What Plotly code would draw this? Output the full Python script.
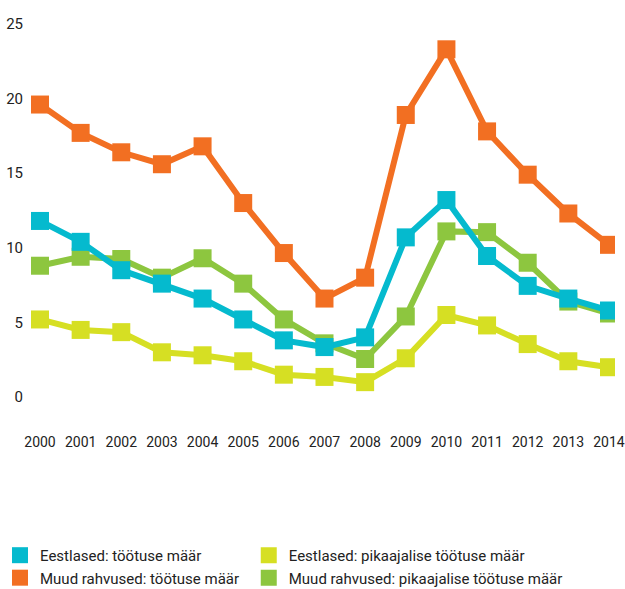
import plotly.graph_objects as go

years = list(range(2000, 2015))

eest_tootus = [11.8, 10.4, 8.5, 7.6, 6.6, 5.2, 3.8, 3.35, 4.0, 10.7, 13.2, 9.45, 7.45, 6.6, 5.8]
muud_tootus = [19.6, 17.7, 16.4, 15.6, 16.8, 13.0, 9.65, 6.6, 8.0, 18.9, 23.3, 17.8, 14.9, 12.3, 10.2]
eest_pika = [5.2, 4.5, 4.35, 3.0, 2.8, 2.4, 1.5, 1.35, 1.0, 2.6, 5.5, 4.8, 3.55, 2.4, 2.0]
muud_pika = [8.8, 9.4, 9.25, 8.0, 9.3, 7.6, 5.2, 3.6, 2.55, 5.4, 11.1, 11.05, 9.0, 6.4, 5.6]

names = {
    "eest_tootus": "Eestlased: töötuse määr",
    "eest_pika": "Eestlased: pikaajalise töötuse määr",
    "muud_tootus": "Muud rahvused: töötuse määr",
    "muud_pika": "Muud rahvused: pikaajalise töötuse määr",
}
colors = {
    "eest_tootus": "#05BACE",
    "muud_tootus": "#F26F22",
    "eest_pika": "#D6DF23",
    "muud_pika": "#8DC63F",
}
series = {
    "eest_tootus": eest_tootus,
    "muud_tootus": muud_tootus,
    "eest_pika": eest_pika,
    "muud_pika": muud_pika,
}

FONT = "Roboto, sans-serif"
TXT = "#222222"

fig = go.Figure()

draw_order = ["eest_pika", "muud_pika", "muud_tootus", "eest_tootus"]
for key in draw_order:
    fig.add_trace(go.Scatter(
        x=years, y=series[key], mode="lines+markers",
        line=dict(color=colors[key], width=6),
        marker=dict(symbol="square", size=18, color=colors[key], line=dict(width=0)),
        showlegend=False, hoverinfo="skip",
    ))

legend_cols = [("legend", ["eest_tootus", "muud_tootus"]),
               ("legend2", ["eest_pika", "muud_pika"])]
for lg, keys in legend_cols:
    for rank, key in enumerate(keys):
        fig.add_trace(go.Scatter(
            x=[None], y=[None], mode="markers", name=names[key],
            marker=dict(symbol="square", size=18, color=colors[key]),
            legend=lg, legendrank=rank + 1,
        ))

legend_common = dict(
    orientation="h", xref="container", yref="container",
    yanchor="top", xanchor="left", itemwidth=30, tracegroupgap=0,
    entrywidth=300, entrywidthmode="pixels",
    font=dict(family=FONT, size=15, color=TXT), bgcolor="rgba(0,0,0,0)",
)

fig.update_layout(
    width=625, height=589,
    margin=dict(l=30, r=10, t=9, b=177),
    paper_bgcolor="white", plot_bgcolor="white",
    font=dict(family=FONT, color=TXT, size=15),
    showlegend=True,
    legend=dict(x=-0.038, y=0.085, **legend_common),
    legend2=dict(x=0.398, y=0.085, **legend_common),
    xaxis=dict(
        range=[1999.754, 2014.148], tickmode="array", tickvals=years,
        ticktext=[str(y) for y in years], showgrid=False, zeroline=False,
        showline=False, ticks="", ticklabelstandoff=20, tickangle=0,
        automargin=False,
        tickfont=dict(family=FONT, size=14, color=TXT),
    ),
    yaxis=dict(
        range=[-1, 26], tickvals=[0, 5, 10, 15, 20, 25], showgrid=False,
        zeroline=False, showline=False, ticks="", ticklabelstandoff=6,
        automargin=False,
        tickfont=dict(family=FONT, size=15, color=TXT),
    ),
)

fig.write_html(
    "out.html",
    config={"displayModeBar": False},
    post_script="document.body.style.margin='0';document.body.style.overflow='hidden';",
)
